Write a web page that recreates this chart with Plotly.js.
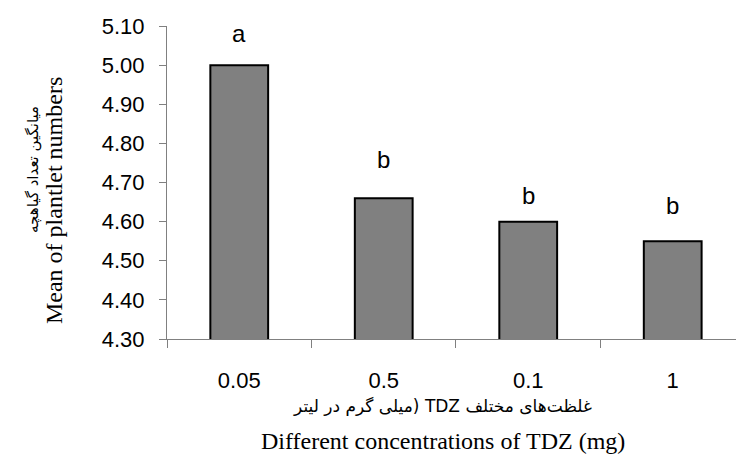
<!DOCTYPE html>
<html>
<head>
<meta charset="utf-8">
<script src="https://cdn.plot.ly/plotly-3.0.1.min.js"></script>
<style>html,body{margin:0;padding:0;background:#fff;}#chart{width:736px;height:460px;}</style>
</head>
<body>
<div id="chart"></div>
<script>
// Data
var categories = ['0.05', '0.5', '0.1', '1'];
var meanPlantlets = [5.00, 4.66, 4.60, 4.55];
var groupLetters = ['a', 'b', 'b', 'b'];
var letterHeights = [5.082, 4.760, 4.666, 4.640];
var yTickValues = [4.30, 4.40, 4.50, 4.60, 4.70, 4.80, 4.90, 5.00, 5.10];

var xTitleFa = '\u202Bغلظت‌های مختلف TDZ (میلی گرم در لیتر\u202C';
var xTitleEn = 'Different concentrations of TDZ (mg)';
var yTitleFa = 'میانگین تعداد گیاهچه';
var yTitleEn = 'Mean of plantlet numbers';

var trace = {
  type: 'bar',
  x: categories,
  y: meanPlantlets,
  width: 0.4,
  marker: {color: '#808080', line: {color: '#000000', width: 2}},
  hoverinfo: 'x+y'
};

var annotations = groupLetters.map(function (t, i) {
  return {
    x: i, y: letterHeights[i], xref: 'x', yref: 'y',
    text: t, showarrow: false, xanchor: 'center', yanchor: 'middle',
    font: {family: 'Liberation Sans, Arial, sans-serif', size: 24, color: '#000'}
  };
});

annotations.push(
  {xref: 'paper', yref: 'paper', x: -0.1986, y: 0.444, text: yTitleEn, textangle: -90,
   showarrow: false, xanchor: 'center', yanchor: 'middle',
   font: {family: 'Liberation Serif, Times New Roman, serif', size: 24, color: '#000'}},
  {xref: 'paper', yref: 'paper', x: -0.2355, y: 0.540, text: yTitleFa, textangle: -90,
   showarrow: false, xanchor: 'center', yanchor: 'middle',
   font: {family: 'DejaVu Sans, sans-serif', size: 15, color: '#000'}},
  {xref: 'paper', yref: 'paper', x: 0.485, y: -0.214, text: xTitleFa,
   showarrow: false, xanchor: 'center', yanchor: 'middle',
   font: {family: 'DejaVu Sans, sans-serif', size: 17, color: '#000'}},
  {xref: 'paper', yref: 'paper', x: 0.485, y: -0.326, text: xTitleEn,
   showarrow: false, xanchor: 'center', yanchor: 'middle',
   font: {family: 'Liberation Serif, Times New Roman, serif', size: 24, color: '#000'}}
);

var layout = {
  width: 736, height: 460,
  margin: {l: 167, r: 0, t: 26, b: 121, pad: 0},
  paper_bgcolor: '#ffffff', plot_bgcolor: '#ffffff',
  showlegend: false,
  bargap: 0.6,
  xaxis: {
    type: 'category',
    range: [-0.5, 3.438],
    showline: true, linecolor: '#808080', linewidth: 1,
    ticks: 'outside', tickson: 'boundaries', ticklen: 8, tickcolor: '#808080', tickwidth: 1,
    ticklabelstandoff: 22,
    showgrid: false, zeroline: false,
    tickfont: {family: 'Liberation Sans, Arial, sans-serif', size: 22, color: '#000'}
  },
  yaxis: {
    range: [4.30, 5.10],
    tickvals: yTickValues,
    tickformat: '.2f',
    showline: true, linecolor: '#808080', linewidth: 1,
    ticks: 'outside', ticklen: 7, tickcolor: '#808080', tickwidth: 1,
    ticklabelstandoff: 10,
    showgrid: false, zeroline: false,
    tickfont: {family: 'Liberation Sans, Arial, sans-serif', size: 22, color: '#000'}
  },
  annotations: annotations
};

Plotly.newPlot('chart', [trace], layout, {displayModeBar: false, staticPlot: true});
</script>
</body>
</html>
